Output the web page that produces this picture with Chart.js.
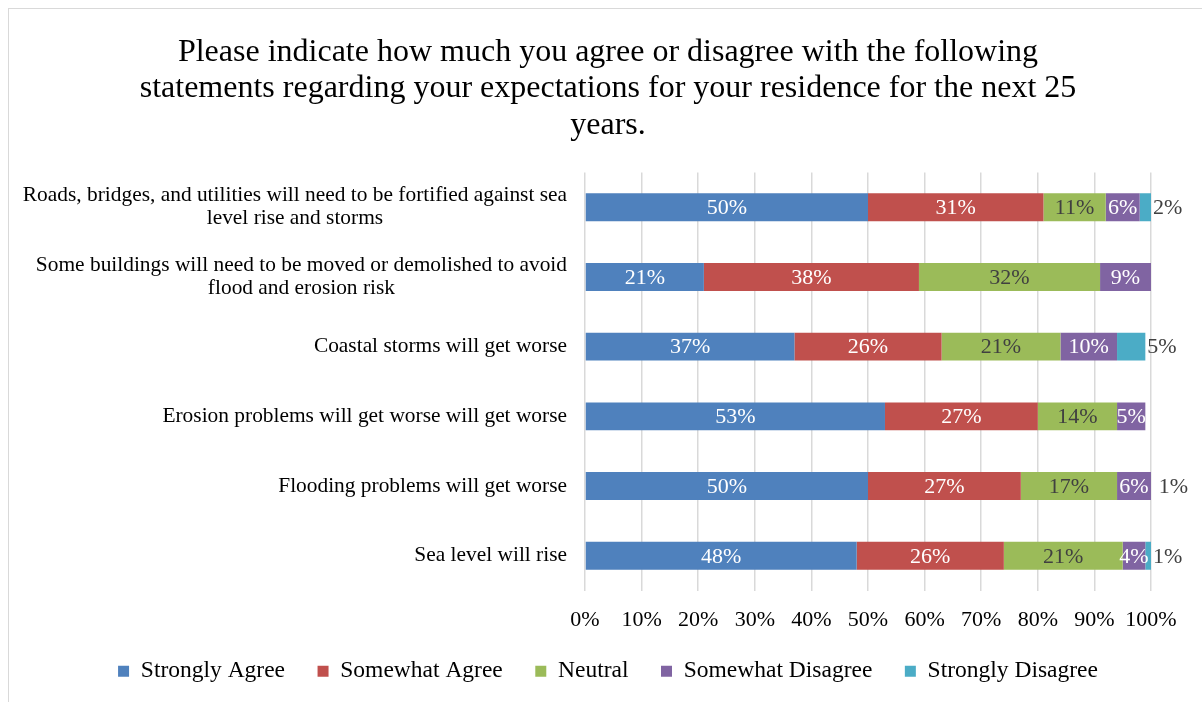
<!DOCTYPE html>
<html>
<head>
<meta charset="utf-8">
<script src="https://cdn.jsdelivr.net/npm/chart.js@4"></script>
<style>
  html, body { margin: 0; padding: 0; background: #fff; }
  #wrap { width: 1202px; height: 702px; }
</style>
</head>
<body>
<div id="wrap"><canvas id="expectations"></canvas></div>
<script>
var statements = [
    ['Roads, bridges, and utilities will need to be fortified against sea', 'level rise and storms'],
    ['Some buildings will need to be moved or demolished to avoid', 'flood and erosion risk'],
    ['Coastal storms will get worse'],
    ['Erosion problems will get worse will get worse'],
    ['Flooding problems will get worse'],
    ['Sea level will rise']
];
var stronglyAgree = [50, 21, 37, 53, 50, 48];
var somewhatAgree = [31, 38, 26, 27, 27, 26];
var neutral = [11, 32, 21, 14, 17, 21];
var somewhatDisagree = [6, 9, 10, 5, 6, 4];
var stronglyDisagree = [2, 0, 5, 0, 1, 1];
var percentTicks = [0, 10, 20, 30, 40, 50, 60, 70, 80, 90, 100];

var serif = "'Liberation Serif', 'Times New Roman', serif";

// segment labels: centred in each bar piece, the last series sits past the bar end
var segmentLabels = {
    id: 'segmentLabels',
    afterDatasetsDraw: function(chart) {
        var ctx = chart.ctx;
        ctx.save();
        ctx.font = '22px ' + serif;
        ctx.textBaseline = 'middle';
        chart.data.datasets.forEach(function(ds, i) {
            var meta = chart.getDatasetMeta(i);
            meta.data.forEach(function(bar, j) {
                var v = ds.data[j];
                if (!v) return;
                if (ds.outside) {
                    ctx.textAlign = 'left';
                    ctx.fillStyle = '#404040';
                    ctx.fillText(v + '%', bar.x + 2, bar.y + 1);
                } else {
                    ctx.textAlign = 'center';
                    ctx.fillStyle = ds.labelColor;
                    ctx.fillText(v + '%', (bar.x + bar.base) / 2, bar.y + 1);
                }
            });
        });
        ctx.restore();
    }
};

// category text: block right-aligned against the axis, lines centred inside the block
var statementLabels = {
    id: 'statementLabels',
    afterDraw: function(chart) {
        var ctx = chart.ctx;
        var yScale = chart.scales.y;
        var right = chart.chartArea.left - 18;
        var lineH = 23;
        ctx.save();
        ctx.font = '21.4px ' + serif;
        ctx.fillStyle = '#000';
        ctx.textAlign = 'center';
        ctx.textBaseline = 'middle';
        statements.forEach(function(lines, i) {
            var w = Math.max.apply(null, lines.map(function(t) { return ctx.measureText(t).width; }));
            var cx = right - w / 2;
            var y0 = yScale.getPixelForValue(i) - (lines.length - 1) * lineH / 2;
            lines.forEach(function(t, k) {
                ctx.fillText(t, cx, y0 + k * lineH);
            });
        });
        ctx.restore();
    }
};

// thin frame round the chart
var frame = {
    id: 'frame',
    beforeDraw: function(chart) {
        var ctx = chart.ctx;
        ctx.save();
        ctx.strokeStyle = '#D9D9D9';
        ctx.lineWidth = 1;
        ctx.strokeRect(8.5, 8.5, 1400, 900);
        ctx.restore();
    }
};

var data = {
    labels: statements,
    datasets: [
        { label: 'Strongly Agree', data: stronglyAgree, backgroundColor: '#4F81BD', labelColor: '#fff' },
        { label: 'Somewhat Agree', data: somewhatAgree, backgroundColor: '#C0504D', labelColor: '#fff' },
        { label: 'Neutral', data: neutral, backgroundColor: '#9BBB59', labelColor: '#404040' },
        { label: 'Somewhat Disagree', data: somewhatDisagree, backgroundColor: '#8064A2', labelColor: '#fff' },
        { label: 'Strongly Disagree', data: stronglyDisagree, backgroundColor: '#4BACC6', outside: true }
    ]
};
data.datasets.forEach(function(ds) {
    ds.borderWidth = 0;
    ds.barPercentage = 0.4;
    ds.categoryPercentage = 1;
});

var config = {
    type: 'bar',
    data: data,
    options: {
        indexAxis: 'y',
        responsive: true,
        maintainAspectRatio: false,
        animation: false,
        layout: {
            padding: { left: 65, right: 51, top: 0, bottom: 9 }
        },
        plugins: {
            title: {
                display: true,
                text: ['Please indicate how much you agree or disagree with the following',
                       'statements regarding your expectations for your residence for the next 25',
                       'years.'],
                color: '#000',
                font: { family: serif, size: 32, weight: 'normal', lineHeight: 1.14 },
                padding: { top: 34, bottom: 29 }
            },
            legend: {
                position: 'bottom',
                labels: {
                    color: '#000',
                    font: { family: serif, size: 23.5 },
                    boxWidth: 11,
                    boxHeight: 11,
                    padding: 32.5
                }
            },
            tooltip: { enabled: false }
        },
        scales: {
            x: {
                stacked: true,
                min: 0,
                max: 100,
                afterBuildTicks: function(scale) {
                    scale.ticks = percentTicks.map(function(v) { return { value: v }; });
                },
                afterFit: function(scale) { scale.height -= 22; },
                grid: { color: '#D9D9D9', lineWidth: 1.5, drawTicks: false },
                border: { display: false },
                ticks: {
                    color: '#000',
                    padding: 16,
                    minRotation: 0,
                    maxRotation: 0,
                    autoSkip: false,
                    font: { family: serif, size: 22 },
                    callback: function(v) { return v + '%'; }
                }
            },
            y: {
                stacked: true,
                grid: { display: false },
                border: { display: false },
                ticks: { display: false },
                afterFit: function(scale) { scale.width = 520; }
            }
        }
    },
    plugins: [frame, segmentLabels, statementLabels]
};

var chart = new Chart(document.getElementById('expectations'), config);
</script>
</body>
</html>
